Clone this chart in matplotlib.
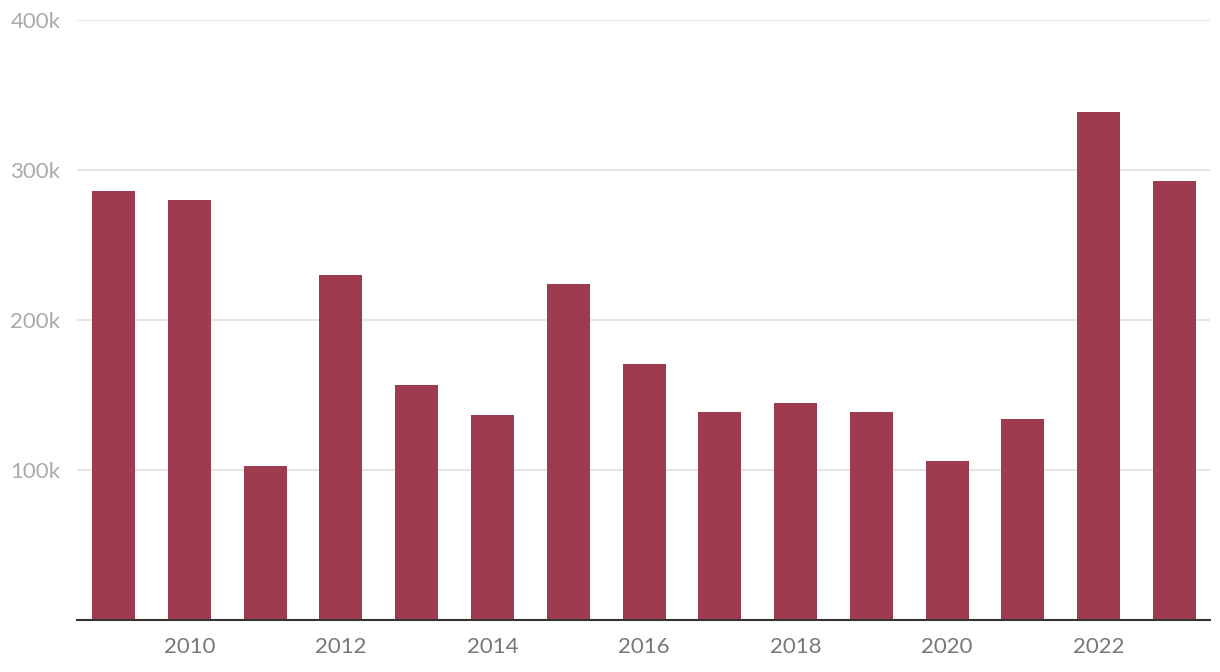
import matplotlib.pyplot as plt
from matplotlib.ticker import FuncFormatter

years = list(range(2009, 2024))
values = [286000, 280000, 102700, 230000, 156700, 136700, 224000, 170700,
          138700, 144700, 138700, 106000, 134000, 338700, 292700]
xticks = [2010, 2012, 2014, 2016, 2018, 2020, 2022]
yticks = [100000, 200000, 300000, 400000]

plt.rcParams['font.family'] = ['Lato', 'DejaVu Sans']

fig = plt.figure(figsize=(12.2, 6.72), dpi=100)
ax = fig.add_axes([77 / 1220, 52 / 672, (1210 - 77) / 1220, 600 / 672])

ax.bar(years, values, width=0.567, color='#9e3b4f', zorder=2)

ax.set_xlim(2008.518, 2023.468)
ax.set_ylim(0, 400000)
ax.set_yticks(yticks)
ax.set_xticks(xticks)
ax.yaxis.set_major_formatter(FuncFormatter(lambda v, p: f'{int(v / 1000)}k'))

ax.grid(axis='y', color='#e6e6e6', linewidth=1.5, zorder=0)
ax.grid(axis='x', visible=False)
for s in ['top', 'right', 'left']:
    ax.spines[s].set_visible(False)
ax.spines['bottom'].set_color('#333333')
ax.spines['bottom'].set_linewidth(1.5)
ax.spines['bottom'].set_zorder(3)

ax.tick_params(axis='y', length=0, pad=12, labelsize=16, labelcolor='#aaaaaa')
ax.tick_params(axis='x', length=0, pad=12, labelsize=16, labelcolor='#777777')

fig.savefig('out.png', dpi=100)
